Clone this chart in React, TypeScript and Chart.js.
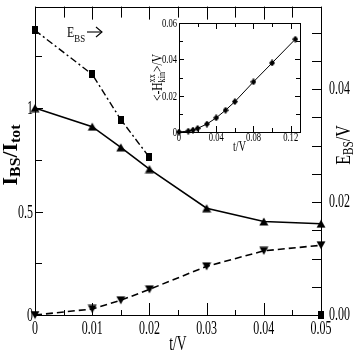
import React, { useEffect, useRef } from "react";
import { Chart, registerables } from "chart.js";
Chart.register(...registerables);

const FONT = '"Liberation Serif", "Times New Roman", "DejaVu Serif", serif';

// ---- Main panel data ----
const tValues = [0, 0.01, 0.015, 0.02, 0.03, 0.04, 0.05];
const ibsRatioUp = [1.0, 0.91, 0.81, 0.705, 0.516, 0.452, 0.441];
const ibsRatioDown = [0, 0.029, 0.071, 0.124, 0.235, 0.31, 0.337];
const ebsValues: (number | null)[] = [0.0504, 0.0426, 0.0346, 0.0279, null, null, 0.0];

const xTicks = [0, 0.01, 0.02, 0.03, 0.04, 0.05];
const xTickLabels = ["0", "0.01", "0.02", "0.03", "0.04", "0.05"];
const leftTicks = [0, 0.5, 1];
const leftTickLabels = ["0", "0.5", "1"];
const rightTicks = [0, 0.02, 0.04];
const rightTickLabels = ["0.00", "0.02", "0.04"];

// ---- Inset data ----
const insetT = [0, 0.01, 0.015, 0.02, 0.03, 0.04, 0.05, 0.06, 0.08, 0.1, 0.125];
const insetHkin = [0, 0.0005, 0.0011, 0.002, 0.0044, 0.0078, 0.012, 0.0167, 0.0276, 0.038, 0.0511];
const insetXTicks = [0, 0.04, 0.08, 0.12];
const insetXTickLabels = ["0", "0.04", "0.08", "0.12"];
const insetYTicks = [0, 0.02, 0.04, 0.06];
const insetYTickLabels = ["0", "0.02", "0.04", "0.06"];

type Part = { t: string; s: number; dy?: number; hold?: boolean; b?: boolean };

function drawRich(
  ctx: CanvasRenderingContext2D,
  x: number,
  y: number,
  parts: Part[],
  align: "left" | "center" | "right",
  rot = 0,
  sx = 0.63
) {
  ctx.save();
  ctx.translate(x, y);
  if (rot) ctx.rotate(rot);
  ctx.scale(sx, 1);
  ctx.textBaseline = "alphabetic";
  ctx.textAlign = "left";
  ctx.fillStyle = "#000";
  const fontOf = (p: Part) => `${p.b ? "bold " : ""}${p.s}px ${FONT}`;
  const widths = parts.map((p) => {
    ctx.font = fontOf(p);
    return ctx.measureText(p.t).width;
  });
  let total = 0;
  let held = 0;
  parts.forEach((p, i) => {
    if (p.hold) held = widths[i];
    else {
      total += Math.max(held, widths[i]);
      held = 0;
    }
  });
  let cx = align === "center" ? -total / 2 : align === "right" ? -total : 0;
  held = 0;
  parts.forEach((p, i) => {
    ctx.font = fontOf(p);
    ctx.fillText(p.t, cx, p.dy || 0);
    if (p.hold) held = widths[i];
    else {
      cx += Math.max(held, widths[i]);
      held = 0;
    }
  });
  ctx.restore();
}

function steps(max: number, step: number) {
  const out: number[] = [];
  for (let i = 0; i * step <= max + 1e-9; i++) out.push(+(i * step).toFixed(6));
  return out;
}

function makeMarker(w: number, h: number, draw: (c: CanvasRenderingContext2D) => void) {
  const c = document.createElement("canvas");
  c.width = w;
  c.height = h;
  const g = c.getContext("2d")!;
  g.fillStyle = "#000";
  draw(g);
  return c;
}

function line(ctx: CanvasRenderingContext2D, x1: number, y1: number, x2: number, y2: number) {
  ctx.beginPath();
  ctx.moveTo(x1, y1);
  ctx.lineTo(x2, y2);
  ctx.stroke();
}

const mainDecor = {
  id: "mainDecor",
  afterDraw(chart: any) {
    const ctx: CanvasRenderingContext2D = chart.ctx;
    const { left, right, top, bottom } = chart.chartArea;
    const xs = chart.scales.x;
    const yl = chart.scales.y;
    const yr = chart.scales.y2;
    ctx.save();
    ctx.strokeStyle = "#000";
    ctx.lineWidth = 1;
    ctx.strokeRect(Math.round(left) + 0.5, Math.round(top) + 0.5, Math.round(right - left), Math.round(bottom - top));

    // x ticks (bottom & top)
    steps(0.05, 0.005).forEach((v, i) => {
      const px = Math.round(xs.getPixelForValue(v)) + 0.5;
      const major = i % 2 === 0;
      line(ctx, px, bottom, px, bottom - (major ? 12 : 5));
      line(ctx, px, top, px, top + (major ? 13 : 11));
    });
    // left ticks
    steps(1.49, 0.25).forEach((v, i) => {
      const py = Math.round(yl.getPixelForValue(v)) + 0.5;
      const major = i % 2 === 0;
      line(ctx, left, py, left + (major ? 8 : 7), py);
    });
    // right ticks
    steps(0.0546, 0.005).forEach((v) => {
      const py = Math.round(yr.getPixelForValue(v)) + 0.5;
      line(ctx, right, py, right - 9, py);
    });

    // tick labels
    xTicks.forEach((v, i) => {
      drawRich(ctx, xs.getPixelForValue(v), 334, [{ t: xTickLabels[i], s: 19 }], "center");
    });
    leftTicks.forEach((v, i) => {
      drawRich(ctx, 33, yl.getPixelForValue(v) + 6, [{ t: leftTickLabels[i], s: 19 }], "right");
    });
    rightTicks.forEach((v, i) => {
      drawRich(ctx, 329, yr.getPixelForValue(v) + 5, [{ t: rightTickLabels[i], s: 19 }], "left");
    });

    // axis titles
    drawRich(ctx, (left + right) / 2, 350, [{ t: "t/V", s: 20 }], "center", 0, 0.68);
    drawRich(
      ctx,
      17,
      155,
      [
        { t: "I", s: 21, b: true },
        { t: "BS", s: 15, dy: 3, b: true },
        { t: "/I", s: 21, b: true },
        { t: "tot", s: 15, dy: 3, b: true },
      ],
      "center",
      -Math.PI / 2,
      1.05
    );
    drawRich(
      ctx,
      350,
      145,
      [
        { t: "E", s: 20 },
        { t: "BS", s: 14, dy: 3 },
        { t: "/V", s: 20 },
      ],
      "center",
      -Math.PI / 2,
      0.8
    );

    // E_BS -> annotation
    drawRich(
      ctx,
      67,
      37,
      [
        { t: "E", s: 15 },
        { t: "BS", s: 11, dy: 5 },
      ],
      "left",
      0,
      0.8
    );
    ctx.lineWidth = 1.1;
    line(ctx, 87, 32, 102, 32);
    ctx.beginPath();
    ctx.moveTo(96, 27);
    ctx.lineTo(102, 32);
    ctx.lineTo(96, 37);
    ctx.stroke();
    ctx.restore();
  },
};

const insetDecor = {
  id: "insetDecor",
  afterDraw(chart: any) {
    const ctx: CanvasRenderingContext2D = chart.ctx;
    const { left, right, top, bottom } = chart.chartArea;
    const xs = chart.scales.x;
    const ys = chart.scales.y;
    ctx.save();
    ctx.strokeStyle = "#000";
    ctx.lineWidth = 1;
    ctx.strokeRect(Math.round(left) + 0.5, Math.round(top) + 0.5, Math.round(right - left), Math.round(bottom - top));
    steps(0.13, 0.02).forEach((v, i) => {
      const px = Math.round(xs.getPixelForValue(v)) + 0.5;
      const major = i % 2 === 0;
      line(ctx, px, bottom, px, bottom - (major ? 6 : 4));
      line(ctx, px, top, px, top + (major ? 6 : 4));
    });
    steps(0.06, 0.01).forEach((v, i) => {
      const py = Math.round(ys.getPixelForValue(v)) + 0.5;
      const major = i % 2 === 0;
      line(ctx, left, py, left + (major ? 5 : 4), py);
      line(ctx, right, py, right - (major ? 5 : 4), py);
    });
    insetXTicks.forEach((v, i) => {
      drawRich(ctx, xs.getPixelForValue(v), 131, [{ t: insetXTickLabels[i], s: 13 }], "center", 0, 0.66);
    });
    insetYTicks.forEach((v, i) => {
      drawRich(ctx, 37, ys.getPixelForValue(v) + 4, [{ t: insetYTickLabels[i], s: 13 }], "right", 0, 0.66);
    });
    drawRich(ctx, (left + right) / 2, 141, [{ t: "t/V", s: 14 }], "center", 0, 0.72);
    drawRich(
      ctx,
      22,
      (top + bottom) / 2,
      [
        { t: "<-H", s: 14 },
        { t: "xx", s: 10, dy: -7, hold: true },
        { t: "kin", s: 10, dy: 3 },
        { t: ">/V", s: 14 },
      ],
      "center",
      -Math.PI / 2,
      0.82
    );
    ctx.restore();
  },
};

export default function App() {
  const mainRef = useRef<HTMLCanvasElement>(null);
  const insetRef = useRef<HTMLCanvasElement>(null);

  useEffect(() => {
    const triUp = makeMarker(10, 9, (g) => {
      g.beginPath();
      g.moveTo(5, 0.5);
      g.lineTo(9.5, 8.5);
      g.lineTo(0.5, 8.5);
      g.closePath();
      g.fill();
    });
    const triDown = makeMarker(10, 9, (g) => {
      g.beginPath();
      g.moveTo(0.5, 0.5);
      g.lineTo(9.5, 0.5);
      g.lineTo(5, 8.5);
      g.closePath();
      g.fill();
    });
    const square = makeMarker(6, 8, (g) => g.fillRect(0, 0, 6, 8));
    const diamond = makeMarker(6, 7, (g) => {
      g.beginPath();
      g.moveTo(3, 0);
      g.lineTo(6, 3.5);
      g.lineTo(3, 7);
      g.lineTo(0, 3.5);
      g.closePath();
      g.fill();
    });

    const main = new Chart(mainRef.current!, {
      type: "line",
      data: {
        datasets: [
          {
            label: "I_BS/I_tot (up)",
            data: tValues.map((t, i) => ({ x: t, y: ibsRatioUp[i] })),
            yAxisID: "y",
            borderColor: "#000",
            borderWidth: 1.6,
            pointStyle: triUp as any,
            pointRadius: 5,
            clip: false as any,
          },
          {
            label: "I_BS/I_tot (down)",
            data: tValues.map((t, i) => ({ x: t, y: ibsRatioDown[i] })),
            yAxisID: "y",
            borderColor: "#000",
            borderWidth: 1.6,
            borderDash: [7, 4],
            pointStyle: triDown as any,
            pointRadius: 5,
            clip: false as any,
          },
          {
            label: "E_BS/V",
            data: tValues.map((t, i) => ({ x: t, y: ebsValues[i] })) as any,
            yAxisID: "y2",
            borderColor: "#000",
            borderWidth: 1.4,
            borderDash: [7, 3, 2, 3],
            spanGaps: false,
            pointStyle: square as any,
            pointRadius: 5,
            clip: false as any,
          },
        ],
      },
      options: {
        animation: false,
        responsive: false,
        devicePixelRatio: 1,
        layout: { padding: { left: 35, right: 33, top: 2, bottom: 39 } },
        plugins: { legend: { display: false }, tooltip: { enabled: false } },
        elements: { line: { tension: 0 } },
        scales: {
          x: { type: "linear", min: 0, max: 0.05, display: false },
          y: { type: "linear", min: 0, max: 1.49, display: false },
          y2: { type: "linear", min: 0, max: 0.0546, display: false, position: "right" },
        },
      },
      plugins: [mainDecor],
    });

    const inset = new Chart(insetRef.current!, {
      type: "line",
      data: {
        datasets: [
          {
            label: "<-H_kin^xx>/V",
            data: insetT.map((t, i) => ({ x: t, y: insetHkin[i] })),
            borderColor: "#000",
            borderWidth: 1,
            pointStyle: diamond as any,
            pointRadius: 3,
            clip: false as any,
          },
        ],
      },
      options: {
        animation: false,
        responsive: false,
        devicePixelRatio: 1,
        layout: { padding: { left: 39, right: 15, top: 13, bottom: 28 } },
        plugins: { legend: { display: false }, tooltip: { enabled: false } },
        elements: { line: { tension: 0 } },
        scales: {
          x: { type: "linear", min: 0, max: 0.13, display: false },
          y: { type: "linear", min: 0, max: 0.06, display: false },
        },
      },
      plugins: [insetDecor],
    });

    return () => {
      main.destroy();
      inset.destroy();
    };
  }, []);

  return (
    <div style={{ position: "absolute", left: 0, top: 0, width: 354, height: 354, background: "#fff" }}>
      <canvas
        ref={mainRef}
        width={354}
        height={354}
        style={{ position: "absolute", left: 0, top: 0, width: 354, height: 354 }}
      />
      <canvas
        ref={insetRef}
        width={175}
        height={150}
        style={{ position: "absolute", left: 140, top: 10, width: 175, height: 150 }}
      />
    </div>
  );
}
